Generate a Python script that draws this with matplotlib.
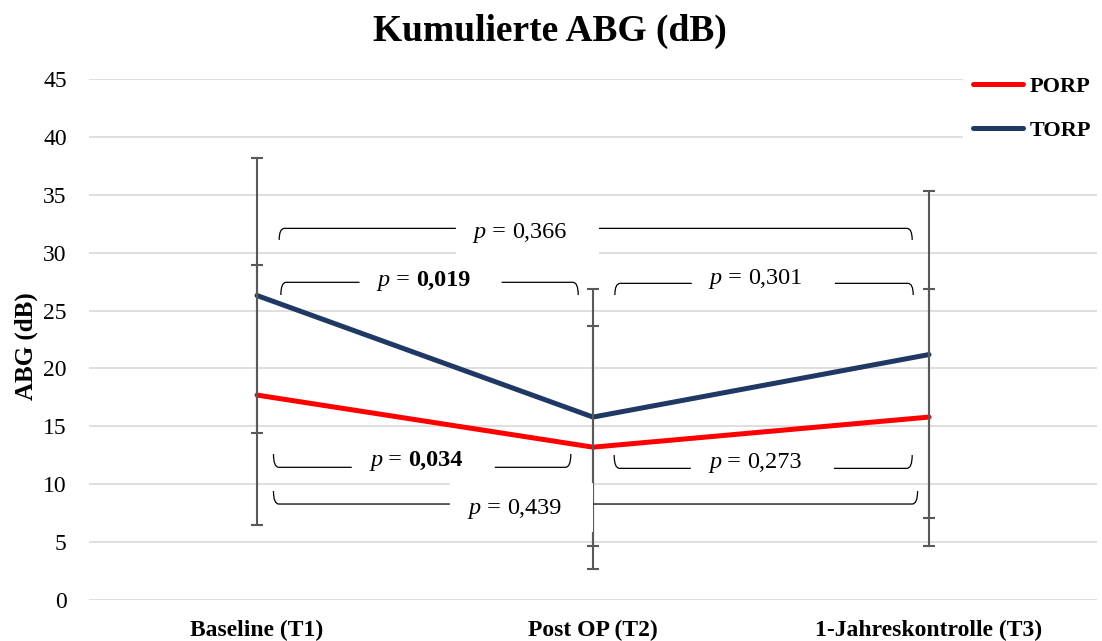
import matplotlib
matplotlib.use("Agg")
import matplotlib.pyplot as plt
from matplotlib.path import Path
from matplotlib.patches import PathPatch, Rectangle

plt.rcParams['font.family'] = ['Liberation Serif', 'DejaVu Serif']

# ---- data ----
timepoints = ["Baseline (T1)", "Post OP (T2)", "1-Jahreskontrolle (T3)"]
porp_mean = [17.7, 13.2, 15.8]
porp_sd = [11.2, 10.5, 11.1]
torp_mean = [26.3, 15.8, 21.2]
torp_sd = [11.9, 11.1, 14.1]
series_names = ["PORP", "TORP"]
y_ticks = [0, 5, 10, 15, 20, 25, 30, 35, 40, 45]

# p-value annotations
p_labels = ["0,366", "0,019", "0,301", "0,034", "0,273", "0,439"]
p_bold = [False, True, False, True, False, False]

RED = "#FF0000"
NAVY = "#1F3864"
GRID = "#D9D9D9"
ERR = "#595959"

fig = plt.figure(figsize=(11.02, 6.41), dpi=100)
ax = fig.add_axes([89/1102, 1-600/641, (1097-89)/1102, (600-79)/641])

x = list(range(len(timepoints)))
l1, = ax.plot(x, porp_mean, color=RED, lw=3.6, solid_capstyle='round',
              solid_joinstyle='round', zorder=2, label=series_names[0])
l2, = ax.plot(x, torp_mean, color=NAVY, lw=3.6, solid_capstyle='round',
              solid_joinstyle='round', zorder=2, label=series_names[1])
ax.errorbar(x, porp_mean, yerr=porp_sd, fmt='none', ecolor=ERR, elinewidth=1.5,
            capsize=4.5, capthick=1.5, zorder=3)
ax.errorbar(x, torp_mean, yerr=torp_sd, fmt='none', ecolor=ERR, elinewidth=1.5,
            capsize=4.5, capthick=1.5, zorder=3)

ax.set_xlim(-0.5, 2.5)
ax.set_ylim(0, 45)
ax.set_yticks(y_ticks)
ax.set_yticklabels([str(v) for v in y_ticks], fontsize=17)
ax.set_xticks(x)
ax.set_xticklabels(timepoints, fontsize=17, fontweight='bold')
ax.tick_params(axis='both', length=0)
ax.tick_params(axis='y', pad=16)
ax.tick_params(axis='x', pad=14)
for s in ax.spines.values():
    s.set_visible(False)
ax.yaxis.grid(True, color=GRID, lw=1.2, zorder=0)
ax.set_axisbelow(True)

# ---- brackets ----
# (x0, x1, line_y, tip_y, gap0, gap1, text_x, text_baseline)
brackets = [
    (0.066, 1.950, 32.1, 31.1, 0.592, 1.018, 0.783, 31.27),
    (0.071, 0.956, 27.44, 26.34, 0.305, 0.728, 0.497, 27.15),
    (1.065, 1.953, 27.35, 26.34, 1.294, 1.720, 1.485, 27.3),
    (0.049, 0.934, 11.46, 12.61, 0.282, 0.708, 0.475, 11.6),
    (1.063, 1.950, 11.37, 12.52, 1.291, 1.717, 1.483, 11.37),
    (0.049, 1.966, 8.29, 9.41, 0.574, 1.001, 0.768, 7.42),
]
r = 0.016
for (x0, x1, ly, ty, g0, g1, tx, tb) in brackets:
    left = Path([(x0, ty), (x0, ly), (x0 + r, ly), (g0, ly)],
                [Path.MOVETO, Path.CURVE3, Path.CURVE3, Path.LINETO])
    right = Path([(g1, ly), (x1 - r, ly), (x1, ly), (x1, ty)],
                 [Path.MOVETO, Path.LINETO, Path.CURVE3, Path.CURVE3])
    for p in (left, right):
        ax.add_patch(PathPatch(p, fill=False, edgecolor='black', lw=0.9, zorder=5))

# white text boxes that hide gridlines / error bar
ax.add_patch(Rectangle((0.592, 29.6), 1.018 - 0.592, 34.0 - 29.6, facecolor='white',
                       edgecolor='none', zorder=4))
ax.add_patch(Rectangle((0.574, 5.9), 1.0 - 0.574, 10.1 - 5.9, facecolor='white',
                       edgecolor='none', zorder=4))

# texts: italic p, " = ", number (bold where significant)
fig.canvas.draw()
renderer = fig.canvas.get_renderer()
inv = ax.transData.inverted()
for (x0, x1, ly, ty, g0, g1, tx, tb), lab, bold in zip(brackets, p_labels, p_bold):
    t1 = ax.text(0, 0, "p", fontsize=17.5, fontstyle='italic')
    t2 = ax.text(0, 0, " = ", fontsize=17.5)
    t3 = ax.text(0, 0, lab, fontsize=17.5, fontweight='bold' if bold else 'normal')
    w = [t.get_window_extent(renderer).width for t in (t1, t2, t3)]
    cx, cy = ax.transData.transform((tx, tb))
    pos = cx - sum(w) / 2
    for t, wi in zip((t1, t2, t3), w):
        t.set_position(tuple(inv.transform((pos, cy))))
        t.set_va('baseline')
        t.set_ha('left')
        t.set_zorder(6)
        pos += wi

# ---- legend ----
leg = fig.legend(handles=[l1, l2], loc='center left',
                 bbox_to_anchor=(963/1102, 1 - 108.5/641),
                 prop={'family': 'Liberation Serif', 'weight': 'bold', 'size': 16},
                 frameon=True, fancybox=False, facecolor='white', edgecolor='none',
                 framealpha=1, handlelength=2.25, handletextpad=0.3,
                 labelspacing=1.05, borderpad=0.45, borderaxespad=0)

# ---- titles ----
fig.text(550/1102, 1 - 31/641, "Kumulierte ABG (dB)", ha='center', va='center',
         fontsize=27, fontweight='bold')
fig.text(26/1102, 1 - 346/641, "ABG (dB)", ha='center', va='center', rotation=90,
         fontsize=18, fontweight='bold')

fig.savefig("out.png", dpi=100)
